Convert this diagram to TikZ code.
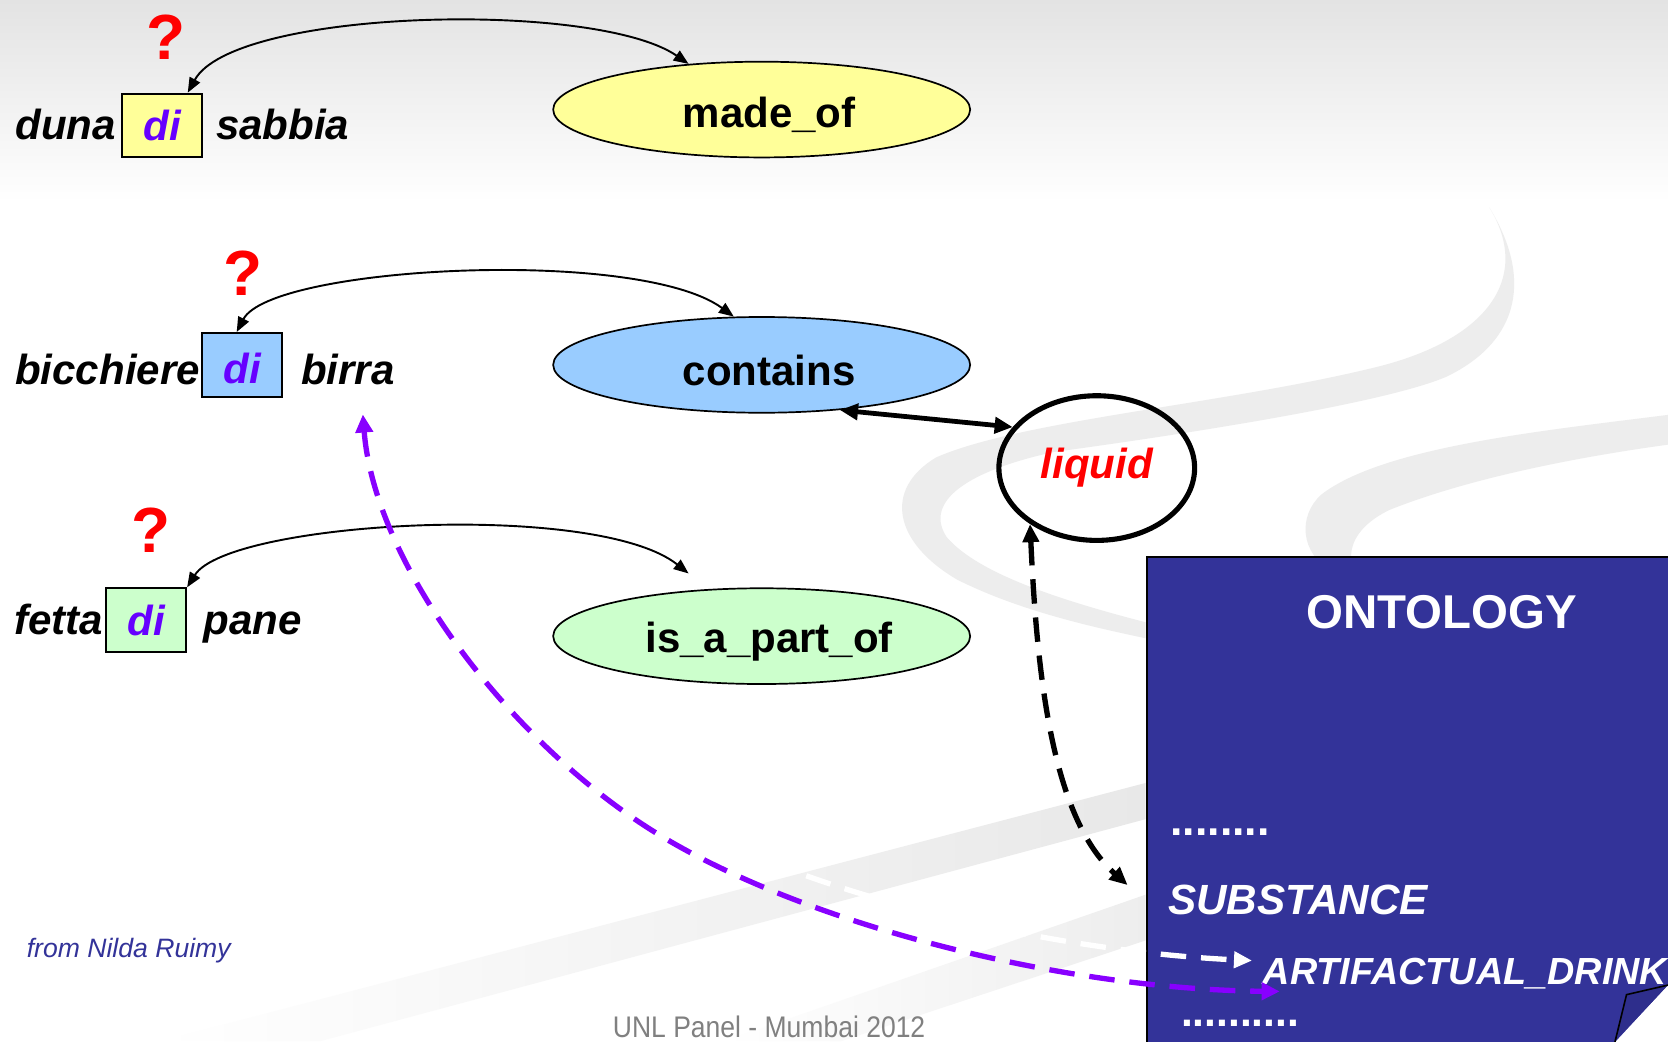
\documentclass[tikz,border=0pt]{standalone}
\usepackage{fontspec}
\setmainfont{Liberation Sans}
\usetikzlibrary{arrows.meta,shapes.geometric,calc}

\definecolor{ontoblue}{HTML}{333399}
\definecolor{diviolet}{HTML}{6600FF}
\definecolor{linkviolet}{HTML}{8800FF}
\definecolor{madefill}{HTML}{FFFF99}
\definecolor{containsfill}{HTML}{99CCFF}
\definecolor{partfill}{HTML}{CCFFCC}
\definecolor{flapblue}{HTML}{2E2E8C}
\definecolor{footgray}{HTML}{808080}

\begin{document}
\begin{tikzpicture}[x=1pt,y=-1pt,
  word/.style={font=\fontsize{39.5}{40}\selectfont\bfseries\itshape, inner sep=0pt},
  dibox/.style={draw, line width=1.8pt, minimum width=75pt, minimum height=60pt,
    inner sep=0pt, font=\fontsize{39.5}{40}\selectfont\bfseries\itshape, text=diviolet},
  relation/.style={ellipse, draw, line width=1.6pt, minimum width=392pt,
    minimum height=90pt, inner sep=0pt, font=\fontsize{39.5}{40}\selectfont\bfseries,
    execute at begin node={\hspace*{14pt}\rule{0pt}{39pt}}},
  query/.style={text=red, font=\fontsize{60}{60}\selectfont\bfseries, inner sep=0pt},
  linkarc/.style={line width=1.8pt, {Triangle[length=14pt,width=11pt]}-{Triangle[length=14pt,width=11pt]}},
  heavy/.style={line width=4.5pt, {Triangle[length=17pt,width=15pt]}-{Triangle[length=17pt,width=15pt]}},
  heavydash/.style={heavy, dash pattern=on 23pt off 13pt},
  mapdash/.style={line width=5pt, dash pattern=on 24pt off 14pt},
  ontotext/.style={text=white, inner sep=0pt},
  band/.style={fill=black!7}
]
\path[use as bounding box] (0,0) rectangle (1568,979);
\clip (0,0) rectangle (1568,979);

% background: white page with grey fade at the top
\fill[white] (0,0) rectangle (1568,979);
\shade[top color=black!11, bottom color=white] (0,0) rectangle (1568,190);

% decorative swooshes
\fill[band] (1400,195) .. controls (1440,260) and (1400,320) .. (1290,346)
  .. controls (1150,380) and (960,395) .. (880,430)
  .. controls (830,460) and (840,510) .. (900,545)
  .. controls (960,575) and (1030,590) .. (1077,600)
  -- (1077,585) .. controls (1000,565) and (920,540) .. (890,505)
  .. controls (870,475) and (900,445) .. (990,425)
  .. controls (1100,410) and (1300,380) .. (1360,354)
  .. controls (1430,320) and (1440,260) .. (1400,195) -- cycle;
\fill[band] (1568,390) .. controls (1450,405) and (1300,420) .. (1242,465)
  .. controls (1220,485) and (1222,520) .. (1252,537) -- (1286,551)
  .. controls (1262,535) and (1262,500) .. (1307,479)
  .. controls (1380,450) and (1480,430) .. (1568,418) -- cycle;
\shade[left color=white, right color=black!9]
  (1077,736) -- (1077,770) -- (300,979) -- (150,979) -- cycle;
\shade[left color=white, right color=black!7]
  (1077,841) -- (1077,884) -- (790,979) -- (680,979) -- cycle;

% relation ellipses
\node[relation, fill=madefill] (madeof) at (716,103) {made\_of};
\node[relation, fill=containsfill] (contains) at (716,343) {contains};
\node[relation, fill=partfill] (partof) at (716,598) {is\_a\_part\_of};

% phrase 1: duna di sabbia
\node[query] (q1) at (156,35) {?};
\node[dibox, fill=madefill] (di1) at (152.5,118) {di};
\node[word, anchor=base east] (duna) at (109,131) {duna};
\node[word, anchor=base west] (sabbia) at (203,131) {sabbia};

% phrase 2: bicchiere di birra
\node[query] (q2) at (228,257) {?};
\node[dibox, fill=containsfill, text height=36pt] (di2) at (227.5,343) {di};
\node[word, anchor=base east] (bicchiere) at (188,361) {bicchiere};
\node[word, anchor=base west] (birra) at (283,361) {birra};

% phrase 3: fetta di pane
\node[query] (q3) at (142,498) {?};
\node[dibox, fill=partfill] (di3) at (137.5,583) {di};
\node[word, anchor=base east] (fetta) at (97,596) {fetta};
\node[word, anchor=base west] (pane) at (191,596) {pane};

% preposition to relation links
\draw[linkarc] ([xshift=24pt]di1.north) .. controls (220,8) and (560,0) .. (madeof.148);
\draw[linkarc] ([xshift=-5pt]di2.north) .. controls (255,250) and (600,232) .. (contains.120);
\draw[linkarc] (di3.north east) .. controls (215,490) and (560,470) .. ([yshift=16pt]partof.148);

% liquid concept
\node[ellipse, draw, line width=4.8pt, minimum width=184pt, minimum height=136pt,
  inner sep=0pt, text=red, font=\fontsize{39.5}{40}\selectfont\bfseries\itshape]
  (liquid) at (1031,440) {liquid};
\draw[heavy] (contains.-30) -- (liquid.154);

% ontology panel
\node[draw, line width=2pt, fill=ontoblue, anchor=north west, inner sep=0pt,
  minimum width=520pt, minimum height=480pt] (ontology) at (1077,523) {};
\fill[white] (1568,926) -- (1569,980) -- (1518,980) -- cycle;
\fill[flapblue] (1568,926) -- (1529,935) -- (1518,979) -- cycle;
\draw[line width=1.5pt] (1568,926) -- (1529,935) -- (1518,980);

\node[ontotext, font=\fontsize{44.6}{46}\selectfont\bfseries] (ontotitle) at (1355,575) {ONTOLOGY};
\node[ontotext, anchor=base west, font=\fontsize{42}{42}\selectfont\bfseries] (dotsa) at (1100,785) {........};
\node[ontotext, anchor=base west, font=\fontsize{39.7}{40}\selectfont\bfseries\itshape] (substance) at (1098,860) {SUBSTANCE};
\node[ontotext, anchor=base west, font=\fontsize{35.5}{36}\selectfont\bfseries\itshape] (artdrink) at (1187,925) {ARTIFACTUAL\_DRINK};
\node[ontotext, anchor=base west, font=\fontsize{40}{40}\selectfont\bfseries] (dotsb) at (1110,965) {..........};

% mapping arrows into the ontology
\coordinate (subsin) at (1060,832);
\coordinate (wstart) at (620,760);
\coordinate (wend) at (1177,903);
\coordinate (pend) at (1203,932);

\draw[heavydash, line width=5pt] (liquid.-140) .. controls (975,640) and (990,770) .. (subsin);
\draw[white, mapdash, -{Triangle[length=17pt,width=15pt]}]
  (wstart) .. controls (760,845) and (1000,895) .. (wend);
\draw[linkviolet, mapdash,
  {Triangle[length=17pt,width=16pt]}-{Triangle[length=17pt,width=16pt]}]
  ([xshift=14pt,yshift=-28pt]birra.south) .. controls (352,530) and (480,700) .. (620,785)
  .. controls (760,870) and (1000,930) .. (pend);

% credits
\node[anchor=base west, inner sep=0pt, text=ontoblue, font=\fontsize{25}{26}\selectfont\itshape]
  (credit) at (25,900) {from Nilda Ruimy};
\node[anchor=base, inner sep=0pt, xscale=0.89, text=footgray, font=\fontsize{28}{28}\selectfont]
  (footer) at (723,975) {UNL Panel - Mumbai 2012};
\end{tikzpicture}
\end{document}
